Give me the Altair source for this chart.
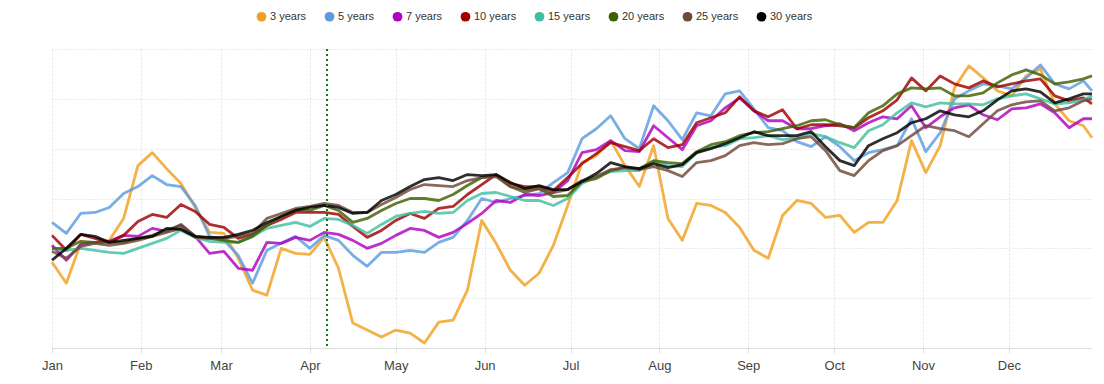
import altair as alt
import pandas as pd

series_names = ["3 years", "5 years", "7 years", "10 years", "15 years", "20 years", "25 years", "30 years"]
series_colors = ["#F0A020", "#5B9BE0", "#B000C0", "#A00000", "#3FBFA0", "#3F6000", "#6F4838", "#000000"]

dates = list(pd.date_range("2019-01-01", "2019-12-27", freq="5D")) + [pd.Timestamp("2019-12-30")]

y3 = [86, 65, 105, 106, 108, 130, 183, 196, 180, 165, 141, 116, 115, 90, 58, 53, 100, 95, 94, 111,
      80, 25, 18, 11, 18, 15, 5, 26, 28, 58, 128, 105, 78, 63, 75, 103, 143, 186, 193, 208,
      183, 162, 203, 130, 108, 145, 143, 136, 121, 98, 90, 133, 148, 145, 131, 133, 116, 126, 126, 148,
      208, 176, 203, 261, 283, 271, 258, 253, 273, 280, 245, 228, 223, 211]
y5 = [126, 115, 135, 136, 141, 155, 162, 173, 164, 162, 143, 112, 108, 93, 65, 98, 105, 112, 100, 113,
      108, 93, 82, 96, 96, 98, 96, 106, 111, 128, 150, 146, 150, 153, 155, 166, 176, 210, 220, 233,
      210, 200, 243, 228, 209, 236, 233, 255, 258, 240, 221, 218, 207, 202, 212, 202, 188, 196, 199, 203,
      230, 197, 216, 250, 258, 265, 263, 260, 271, 284, 265, 260, 268, 258]
y7 = [103, 88, 104, 106, 107, 113, 112, 120, 117, 124, 112, 95, 97, 80, 78, 106, 105, 111, 108, 116,
      114, 108, 100, 105, 113, 120, 118, 111, 116, 125, 135, 148, 146, 154, 153, 156, 168, 196, 199, 208,
      198, 197, 223, 211, 199, 223, 228, 241, 251, 238, 228, 228, 220, 220, 223, 225, 218, 226, 232, 230,
      243, 221, 232, 241, 244, 234, 229, 240, 241, 245, 236, 221, 230, 230]
y10 = [113, 98, 114, 110, 106, 113, 127, 134, 131, 144, 137, 124, 121, 110, 114, 123, 129, 136, 136, 136,
       134, 122, 111, 118, 128, 135, 130, 140, 142, 154, 164, 174, 165, 162, 162, 158, 171, 185, 195, 206,
       202, 198, 210, 201, 204, 226, 231, 236, 252, 238, 232, 239, 220, 224, 224, 223, 221, 231, 238, 249,
       271, 258, 273, 265, 261, 268, 262, 265, 268, 270, 253, 248, 251, 245]
y15 = [100, 98, 100, 98, 96, 95, 100, 105, 110, 118, 111, 107, 106, 106, 112, 120, 123, 126, 122, 130,
       129, 123, 115, 124, 132, 135, 137, 135, 136, 148, 155, 156, 152, 148, 148, 143, 150, 165, 172, 177,
       178, 178, 187, 183, 182, 196, 201, 203, 210, 211, 213, 209, 211, 215, 212, 206, 201, 218, 224, 236,
       246, 242, 246, 245, 245, 244, 250, 253, 255, 250, 245, 246, 249, 253]
y20 = [100, 100, 107, 106, 106, 106, 110, 113, 118, 123, 112, 110, 108, 106, 112, 123, 132, 139, 138, 143,
       138, 126, 130, 138, 145, 150, 150, 148, 154, 163, 171, 173, 162, 159, 160, 152, 153, 167, 170, 178,
       181, 180, 188, 186, 185, 197, 204, 207, 213, 216, 217, 220, 223, 228, 229, 224, 221, 236, 243, 255,
       261, 260, 261, 253, 253, 256, 266, 274, 279, 274, 265, 267, 270, 273]
y25 = [97, 90, 102, 105, 103, 105, 108, 112, 116, 120, 111, 110, 110, 112, 115, 130, 135, 140, 142, 145,
       143, 136, 136, 144, 151, 159, 164, 163, 162, 168, 171, 172, 162, 156, 160, 156, 159, 168, 172, 179,
       181, 179, 182, 178, 172, 186, 188, 193, 203, 206, 204, 205, 210, 212, 198, 178, 173, 188, 198, 203,
       213, 223, 220, 218, 212, 225, 238, 244, 247, 248, 238, 241, 248, 250]
y30 = [88, 100, 114, 112, 106, 108, 110, 112, 120, 119, 112, 111, 111, 114, 118, 126, 132, 138, 141, 143,
       141, 135, 136, 148, 154, 162, 169, 171, 168, 174, 173, 174, 166, 160, 163, 159, 159, 167, 175, 186,
       182, 180, 185, 181, 184, 196, 200, 205, 211, 217, 213, 213, 213, 217, 202, 188, 183, 203, 210, 216,
       226, 230, 238, 234, 232, 238, 249, 258, 260, 257, 246, 250, 255, 255]

marker_dates = [pd.Timestamp("2019-04-07")]
y_grid = [0, 50, 100, 150, 200, 250, 300]

all_series = [y3, y5, y7, y10, y15, y20, y25, y30]
rows = []
for i, (name, vals) in enumerate(zip(series_names, all_series)):
    for d, v in zip(dates, vals):
        rows.append({"date": d, "series": name, "value": v, "k": i})
df = pd.DataFrame(rows)

font = "Liberation Sans"

x_enc = alt.X(
    "date:T",
    scale=alt.Scale(domain=[alt.DateTime(year=2019, month=1, date=1),
                            alt.DateTime(year=2019, month=12, date=30)]),
    axis=alt.Axis(title=None, format="%b", tickCount={"interval": "month", "step": 1},
                  labelFontSize=13, labelColor="#444444", labelFont=font, labelFlush=False,
                  labelBound=False, labelOverlap=False,
                  domainColor="#dddddd", tickColor="#dddddd", tickSize=5,
                  gridColor="#e2e2e2", gridDash=[2, 2], labelPadding=6),
)
y_enc = alt.Y("value:Q", scale=alt.Scale(domain=[0, 300], nice=False),
              axis=alt.Axis(title=None, labels=False, ticks=False, domain=False, values=y_grid,
                            gridColor="#d6d6d6", gridDash=[1, 2]))
color_scale = alt.Scale(domain=series_names, range=series_colors)

lines = alt.Chart(df).mark_line(strokeWidth=2.8, interpolate="linear", opacity=0.82,
                                strokeJoin="round").encode(
    x=x_enc,
    y=y_enc,
    color=alt.Color("series:N", sort=series_names, scale=color_scale, legend=None),
    order=alt.Order("k:Q"),
)

legend_pts = alt.Chart(df).mark_circle(opacity=0, size=1).encode(
    x="date:T",
    y="value:Q",
    color=alt.Color("series:N", sort=series_names, scale=color_scale,
                    legend=alt.Legend(title=None, orient="none", direction="horizontal",
                                      legendX=204, legendY=-38, symbolType="circle",
                                      symbolSize=95, symbolOpacity=1, symbolStrokeWidth=0,
                                      labelFont=font, labelFontSize=11, labelColor="#333333",
                                      labelOffset=3, columnPadding=17, padding=0)),
)

rule = alt.Chart(pd.DataFrame({"date": marker_dates})).mark_rule(
    color="#0B7A0B", strokeDash=[2, 3], strokeWidth=2
).encode(x="date:T")

chart = alt.layer(lines, legend_pts, rule).resolve_legend(color="independent").properties(
    width=1040, height=299,
    autosize=alt.AutoSizeParams(type="none"),
    padding={"left": 44, "top": 41, "right": 4, "bottom": 28},
    background="white",
).configure_view(stroke=None)

chart.save("out.html", embed_options={"renderer": "svg", "actions": False})
